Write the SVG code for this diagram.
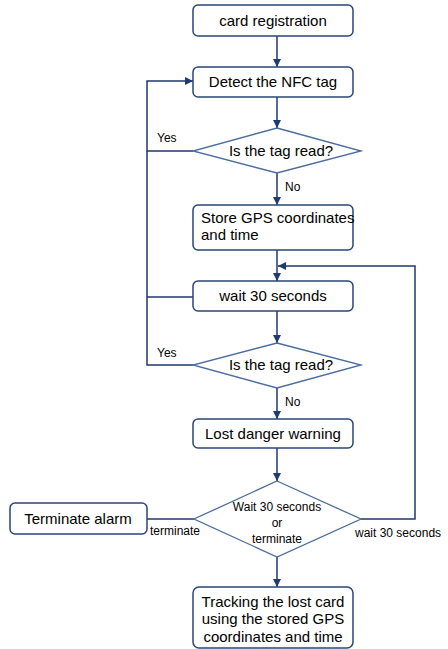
<svg xmlns="http://www.w3.org/2000/svg" width="448" height="649" viewBox="0 0 448 649">
<style>
.box{fill:#fff;stroke:#2A4677;stroke-width:1.5}
.dia{fill:#fff;stroke:#4A6C9E;stroke-width:1.3}
.t{font-family:"Liberation Sans",Arial,sans-serif;font-size:15px;fill:#000}
.s{font-family:"Liberation Sans",Arial,sans-serif;font-size:12px;fill:#000}
.xs{font-family:"Liberation Sans",Arial,sans-serif;font-size:12px;fill:#000}
.c{fill:none;stroke:#1F3A6E;stroke-width:1.5}
</style>
<defs>
<marker id="ah" viewBox="0 0 10 10" refX="10" refY="5" markerWidth="8" markerHeight="8" markerUnits="userSpaceOnUse" orient="auto">
<path d="M0,0 L10,5 L0,10 z" fill="#1F3A6E"/>
</marker>
</defs>
<g id="connectors">
<path class="c" d="M277,36 V67" marker-end="url(#ah)"/>
<path class="c" d="M277,97 V128" marker-end="url(#ah)"/>
<path class="c" d="M277,173 V205" marker-end="url(#ah)"/>
<path class="c" d="M277,250 V281" marker-end="url(#ah)"/>
<path class="c" d="M277,311 V343" marker-end="url(#ah)"/>
<path class="c" d="M277,388 V419" marker-end="url(#ah)"/>
<path class="c" d="M277,448 V481" marker-end="url(#ah)"/>
<path class="c" d="M277,557 V587" marker-end="url(#ah)"/>
<path class="c" d="M193,151 H147 V81 H193" marker-end="url(#ah)"/>
<path class="c" d="M193,365 H147 V151"/>
<path class="c" d="M193,297 H147"/>
<path class="c" d="M361,519 H415 V266 H278" marker-end="url(#ah)"/>
<path class="c" d="M194,519 H147"/>
<text class="s" x="157" y="142">Yes</text>
<text class="s" x="285" y="191">No</text>
<text class="s" x="157" y="357">Yes</text>
<text class="s" x="285" y="406">No</text>
<text class="xs" x="150" y="535">terminate</text>
<text class="xs" x="355" y="537">wait 30 seconds</text>
</g>
<g id="n1">
<rect class="box" x="193" y="5" width="160" height="31" rx="5"/>
<text class="t" x="273" y="26" text-anchor="middle">card registration</text>
</g>
<g id="n2">
<rect class="box" x="193" y="67" width="160" height="30" rx="5"/>
<text class="t" x="273" y="87" text-anchor="middle">Detect the NFC tag</text>
</g>
<g id="d1">
<polygon class="dia" points="277,128 361,151 277,173 193,151"/>
<text class="t" x="281" y="156" text-anchor="middle">Is the tag read?</text>
</g>
<g id="n3">
<rect class="box" x="193" y="205" width="160" height="45" rx="5"/>
<text class="t" x="201" y="223">Store GPS coordinates</text>
<text class="t" x="201" y="240">and time</text>
</g>
<g id="n4">
<rect class="box" x="193" y="281" width="160" height="30" rx="5"/>
<text class="t" x="273" y="301" text-anchor="middle">wait 30 seconds</text>
</g>
<g id="d2">
<polygon class="dia" points="277,343 361,365 277,388 193,365"/>
<text class="t" x="281" y="370" text-anchor="middle">Is the tag read?</text>
</g>
<g id="n5">
<rect class="box" x="193" y="419" width="160" height="29" rx="5"/>
<text class="t" x="273" y="439" text-anchor="middle">Lost danger warning</text>
</g>
<g id="d3">
<polygon class="dia" points="277,481 361,519 277,557 194,519"/>
<text class="s" x="277" y="511" text-anchor="middle" font-size="13.5">Wait 30 seconds</text>
<text class="s" x="277" y="527" text-anchor="middle" font-size="13.5">or</text>
<text class="s" x="277" y="543" text-anchor="middle" font-size="13.5">terminate</text>
</g>
<g id="n6">
<rect class="box" x="10" y="503" width="137" height="31" rx="5"/>
<text class="t" x="78" y="524" text-anchor="middle">Terminate alarm</text>
</g>
<g id="n7">
<rect class="box" x="193" y="587" width="160" height="61" rx="6"/>
<text class="t" x="273" y="607" text-anchor="middle">Tracking the lost card</text>
<text class="t" x="273" y="624" text-anchor="middle">using the stored GPS</text>
<text class="t" x="273" y="642" text-anchor="middle">coordinates and time</text>
</g>
</svg>
